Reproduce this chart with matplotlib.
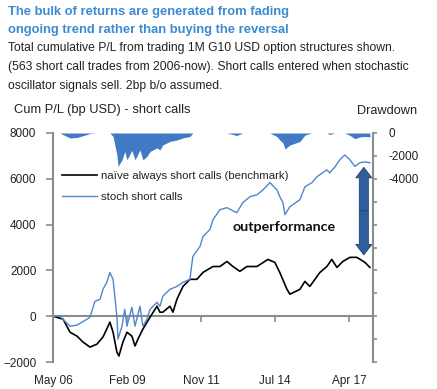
import matplotlib
matplotlib.use("Agg")
import matplotlib.pyplot as plt
import matplotlib.dates as mdates
import numpy as np
import pandas as pd

# months after the May 06 start, values in bp USD
stoch_months = [0, 3, 7.6, 10.7, 15.2, 16.5, 18.7, 21, 22.3, 24, 25.4, 26.8, 28.5, 29,
                30.8, 32, 33, 35.2, 36.6, 38.8, 40.1, 41.9, 43.3, 46.4, 47.7, 49, 52.2,
                55.3, 58, 61.1, 62.4, 65.6, 66.9, 70, 71.4, 74.5, 77.6, 82, 84.7, 87.9,
                91, 93.7, 96.8, 99.9, 101.2, 102.6, 103.5, 105.7, 110.2, 112.4, 115.5,
                117.8, 122.2, 123.5, 125.8, 128, 130.2, 132.5, 134.7, 136.9, 139.2, 141.4]
stoch = [0, 0, -435, -390, -130, -45, 650, 740, 1175, 1480, 1910, 1610, 0, -1000,
         -435, 300, -435, 390, -435, 435, -435, -130, 300, 610, 435, 870, 1175,
         1300, 1480, 1610, 2610, 3045, 3480, 3780, 4220, 4650, 4740, 4520, 4960, 5220,
         5300, 5520, 5830, 5520, 5220, 4960, 4435, 4780, 5090, 5650, 5830,
         6090, 6390, 6260, 6520, 6830, 7040, 6830, 6540, 6700, 6740, 6700]

naive_months = [0, 4.5, 7.6, 10.7, 13.4, 16.5, 19.6, 22.3, 25.4, 26.8, 28.5, 29.4, 31.2,
                33, 35.2, 36.6, 37.9, 40.1, 43.3, 46.4, 47.7, 49, 52.2, 53.5, 55.3, 58,
                61.1, 64.2, 66.9, 71.4, 74.5, 77.6, 80.3, 83.4, 86.5, 91, 95.9, 99,
                101.2, 104.4, 105.7, 110.2, 112.4, 114.6, 119.1, 122.2, 124.4, 126.7,
                129.3, 132.5, 135.6, 139.2, 141.4]
naive = [0, -130, -700, -870, -1130, -1350, -1220, -910, -260, -700, -1565, -1740, -1130,
         -700, -870, -1300, -1000, -565, -45, 435, 175, 175, 435, 175, 740, 1300,
         1610, 1610, 1910, 2170, 2170, 2390, 2170, 1960, 2170, 2170, 2480, 2350,
         1910, 1175, 960, 1175, 1520, 1300, 1910, 2170, 2480, 2130,
         2390, 2570, 2570, 2350, 2130]

tick_dates = ["2006-05-20", "2009-02-09", "2011-11-01", "2014-07-24", "2017-04-14"]
start = pd.Timestamp("2006-05-20")
end = pd.Timestamp("2018-03-03")

blue = "#4f86d0"
fill_blue = "#4279c4"
grey = "#8c8c8c"


def to_dates(months):
    return start + pd.to_timedelta(np.array(months) * 30.15, unit="D")


stoch_x = to_dates(stoch_months)
naive_x = to_dates(naive_months)
stoch_arr = np.array(stoch, dtype=float)
drawdown = stoch_arr - np.maximum.accumulate(stoch_arr)

plt.rcParams["font.family"] = ["Liberation Sans", "DejaVu Sans"]
fig = plt.figure(figsize=(4.37, 3.89), dpi=100)
ax = fig.add_axes([0.1213, 0.0694, 0.7322, 0.5887])

ax.plot(naive_x, naive, color="black", lw=1.2, label="naïve always short calls (benchmark)")
ax.plot(stoch_x, stoch, color=blue, lw=1.0, label="stoch short calls")
ax.set_xlim(start, end)
ax.set_ylim(-2000, 8000)
ax.set_yticks(range(-2000, 8001, 2000))

ticks = pd.to_datetime(tick_dates)
ax.set_xticks(ticks)
ax.xaxis.set_major_formatter(mdates.DateFormatter("%b %y"))
ax.tick_params(axis="x", length=0, pad=9, labelsize=8.5, colors="#222222")
ax.tick_params(axis="y", length=5, width=1.2, color=grey, pad=7, labelsize=8.5,
               labelcolor="#222222")
for s in ["top", "bottom", "right"]:
    ax.spines[s].set_visible(False)
ax.spines["left"].set_color(grey)
ax.spines["left"].set_linewidth(1.5)

# zero line carrying the date tick marks
zero = ax.secondary_xaxis(0.2)
zero.set_xticks(ticks)
zero.tick_params(axis="x", length=4, width=1.2, color=grey, labelbottom=False,
                 direction="out")
zero.spines["bottom"].set_color(grey)
zero.spines["bottom"].set_linewidth(1.5)

leg = ax.legend(loc="upper left", bbox_to_anchor=(0.028, 0.833), frameon=False,
                fontsize=8.2, handlelength=3.1, handletextpad=0.35, labelspacing=0.95,
                borderpad=0, borderaxespad=0)
for t in leg.get_texts():
    t.set_color("#222222")

# drawdown on the right axis
ax2 = ax.twinx()
ax2.fill_between(stoch_x, drawdown, 0, color=fill_blue, lw=0)
ax2.set_ylim(-20000, 0)
ax2.set_yticks(range(-20000, 1, 2000))
ax2.set_yticklabels(["" if v < -4000 else str(v) for v in range(-20000, 1, 2000)])
ax2.tick_params(axis="y", length=3, width=1.2, color=grey, pad=8, labelsize=8.5,
                labelcolor="#222222")
for s in ["top", "bottom", "left"]:
    ax2.spines[s].set_visible(False)
ax2.spines["right"].set_color(grey)
ax2.spines["right"].set_linewidth(1.5)

# outperformance arrow
arrow_x = to_dates([138.7])[0]
mid = 4600
for tip in (6500, 2680):
    ax.annotate("", xy=(arrow_x, tip), xytext=(arrow_x, mid),
                arrowprops=dict(arrowstyle="simple,head_width=1.15,head_length=0.75,tail_width=0.65",
                                mutation_scale=10, fc="#2f5e9c", ec="#1f426f", lw=0.6,
                                shrinkA=0, shrinkB=0))
ax.text(to_dates([80.0])[0], 3900, "outperformance", fontsize=10.3, fontweight="bold",
        family=["Lato", "DejaVu Sans"], color="#111111", va="center")

title_font = dict(fontweight="bold", fontsize=9.4, color="#3c8ad2", va="center")
fig.text(8 / 437, 1 - 12 / 389, "The bulk of returns are generated from fading", **title_font)
fig.text(8 / 437, 1 - 30.5 / 389, "ongoing trend rather than buying the reversal", **title_font)
sub = ["Total cumulative P/L from trading 1M G10 USD option structures shown.",
       "(563 short call trades from 2006-now). Short calls entered when stochastic",
       "oscillator signals sell. 2bp b/o assumed."]
for i, line in enumerate(sub):
    fig.text(8 / 437, 1 - (48.5 + 18.7 * i) / 389, line, fontsize=8.7,
             color="#222222", va="center")

fig.text(14 / 437, 1 - 110 / 389, "Cum P/L (bp USD) - short calls", fontsize=9.3,
         color="#222222", va="center")
fig.text(357 / 437, 1 - 111 / 389, "Drawdown", fontsize=9.2, color="#222222", va="center")

fig.savefig("out.png", dpi=100)
